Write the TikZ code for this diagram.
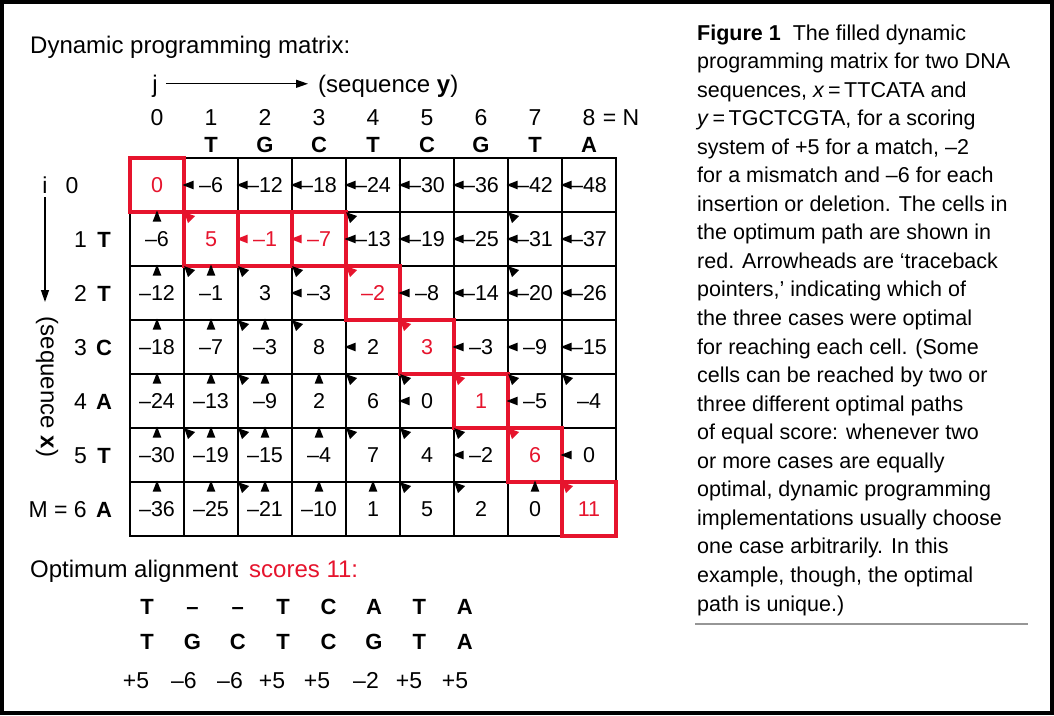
\documentclass[tikz,border=0pt]{standalone}
\usepackage{fontspec}
\setmainfont{Liberation Sans}
\usetikzlibrary{arrows.meta}
\definecolor{pathred}{RGB}{230,20,45}
\definecolor{rulegray}{RGB}{150,150,150}
\newcommand{\myfs}[1]{\fontsize{#1}{#1}\selectfont}
\newcommand{\redval}[1]{\textcolor{pathred}{#1}}
\begin{document}
\begin{tikzpicture}[x=1pt,y=-1pt,
  cell/.style={draw, line width=2.5pt, minimum width=54pt, minimum height=54pt, inner sep=0pt, outer sep=0pt, font=\myfs{21.5}},
  redbox/.style={draw=pathred, line width=4pt},
  txt/.style={inner sep=0pt, anchor=base, font=\myfs{22}},
  btxt/.style={inner sep=0pt, anchor=base, font=\myfs{22}\bfseries},
  hdr/.style={inner sep=0pt, anchor=base west, font=\myfs{24}},
  conn/.style={line width=1.3pt, -{Triangle[length=12pt,width=8pt]}},
  captxt/.style={inner sep=0pt, anchor=base west, font=\myfs{21.5}}]
\useasboundingbox (0,0) rectangle (1054,715);
\fill[white] (0,0) rectangle (1054,715);
\draw[line width=4pt] (2,2) rectangle (1052,713);

% title
\node[hdr] (title) at (30,53) {Dynamic programming matrix:};

% column axis
\node[txt, font=\myfs{24}] (jlab) at (155,92) {j};
\node[hdr] (seqy) at (318,92) {(sequence \textbf{y})};
\draw[conn, shorten <=8pt, shorten >=10pt] ([yshift=2pt]jlab.east |- seqy.west) -- ([yshift=2pt]seqy.west);

% column numbers and letters
\foreach \n [count=\k from 0] in {0,1,2,3,4,5,6,7,8}
  \node[txt, font=\myfs{23}] (h\n) at (157+54*\k,125) {\n};
\node[txt, font=\myfs{23}, anchor=base west] (hN) at ([xshift=7pt]h8.base east) {= N};
\foreach \L [count=\k from 1] in {T,G,C,T,C,G,T,A}
  \node[btxt] (y\k) at (157+54*\k,152) {\L};

% row axis
\node[txt, font=\myfs{23}] (ilab) at (45,193) {i};
\node[txt, font=\myfs{23}] (r0) at (72,193) {0};
\coordinate (itip) at (45,302);
\draw[conn, shorten <=4pt] (ilab.south) -- (itip);
\node[inner sep=0pt, font=\myfs{24}, rotate=-90] (seqx) at (47,387) {(sequence \textbf{x})};
\foreach \k in {1,...,5}
  \node[txt, font=\myfs{23}, anchor=base east] (r\k) at (87,193+54*\k) {\k};
\node[txt, font=\myfs{23}, anchor=base east] (r6) at (87,517) {M = 6};
\foreach \L [count=\k from 1] in {T,T,C,A,T,A}
  \node[btxt] (x\k) at (104,193+54*\k) {\L};

% matrix cells
\foreach \row [count=\i from 0] in {
  {\redval{0},–6,–12,–18,–24,–30,–36,–42,–48},
  {–6,\redval{5},\redval{–1},\redval{–7},–13,–19,–25,–31,–37},
  {–12,–1,3,–3,\redval{–2},–8,–14,–20,–26},
  {–18,–7,–3,8,2,\redval{3},–3,–9,–15},
  {–24,–13,–9,2,6,0,\redval{1},–5,–4},
  {–30,–19,–15,–4,7,4,–2,\redval{6},0},
  {–36,–25,–21,–10,1,5,2,0,\redval{11}}}
  \foreach \v [count=\j from 0] in \row
    \node[cell] (c-\i-\j) at (157+54*\j,185+54*\i) {\v};

% optimum path boxes
\foreach \i/\j in {0/0,1/1,1/2,1/3,2/4,3/5,4/6,5/7,6/8}
  \draw[redbox] (c-\i-\j.north west) rectangle (c-\i-\j.south east);

% traceback pointers: left
\foreach \i/\j in {0/1,0/2,0/3,0/4,0/5,0/6,0/7,0/8,1/4,1/5,1/6,1/7,1/8,2/3,2/5,2/6,2/7,2/8,3/4,3/6,3/7,3/8,4/5,4/7,5/6,5/8}
  \fill[shift={(c-\i-\j.west)}] (-1.5,0) -- (9.5,-4.3) -- (9.5,4.3) -- cycle;
% up
\foreach \i/\j in {1/0,2/0,3/0,4/0,5/0,6/0,2/1,3/1,3/2,4/1,4/2,4/3,5/1,5/2,5/3,6/1,6/2,6/3,6/4,6/7}
  \fill[shift={(c-\i-\j.north)}] (0,-1.5) -- (-4.3,9.5) -- (4.3,9.5) -- cycle;
% diagonal
\foreach \i/\j in {1/4,1/7,2/1,2/2,2/3,2/7,3/2,3/3,4/2,4/4,4/5,4/7,4/8,5/1,5/2,5/4,5/5,5/6,6/2,6/5,6/6}
  \fill[shift={(c-\i-\j.north west)}] (0.2,0.2) -- (11,4) -- (4,11) -- cycle;
% path pointers in red
\foreach \i/\j in {1/2,1/3}
  \fill[pathred, shift={(c-\i-\j.west)}] (-1.5,0) -- (9.5,-4.3) -- (9.5,4.3) -- cycle;
\foreach \i/\j in {1/1,2/4,3/5,4/6,5/7,6/8}
  \fill[pathred, shift={(c-\i-\j.north west)}] (0.2,0.2) -- (11,4) -- (4,11) -- cycle;

% optimum alignment
\node[hdr] (opt) at (30,577) {Optimum alignment};
\node[hdr, text=pathred] (score) at (249,577) {scores 11:};
\foreach \L [count=\k from 0] in {T,–,–,T,C,A,T,A}
  \node[btxt] (a\k) at (147+45.4*\k,614) {\L};
\foreach \L [count=\k from 0] in {T,G,C,T,C,G,T,A}
  \node[btxt] (b\k) at (147+45.4*\k,649) {\L};
\foreach \xx/\s [count=\k from 0] in {136/+5,184/–6,230/–6,272/+5,317/+5,366/–2,409/+5,455/+5}
  \node[txt, font=\myfs{23}] (s\k) at (\xx,688) {\s};

% caption
\foreach \t [count=\k from 0] in {
  {\textbf{Figure 1}\ \ The filled dynamic},
  {programming matrix for two DNA},
  {sequences, \textit{x}\,=\,TTCATA and},
  {\textit{y}\,=\,TGCTCGTA, for a scoring},
  {system of +5 for a match, –2},
  {for a mismatch and –6 for each},
  {insertion or deletion. The cells in},
  {the optimum path are shown in},
  {red. Arrowheads are ‘traceback},
  {pointers,’ indicating which of},
  {the three cases were optimal},
  {for reaching each cell. (Some},
  {cells can be reached by two or},
  {three different optimal paths},
  {of equal score: whenever two},
  {or more cases are equally},
  {optimal, dynamic programming},
  {implementations usually choose},
  {one case arbitrarily. In this},
  {example, though, the optimal},
  {path is unique.)}}
  \node[captxt] (cap\k) at (697,40+28.55*\k) {\t};
\coordinate (ruleA) at (695,624);
\coordinate (ruleB) at (1028,624);
\draw[rulegray, line width=1.5pt] (ruleA) -- (ruleB);
\end{tikzpicture}
\end{document}
